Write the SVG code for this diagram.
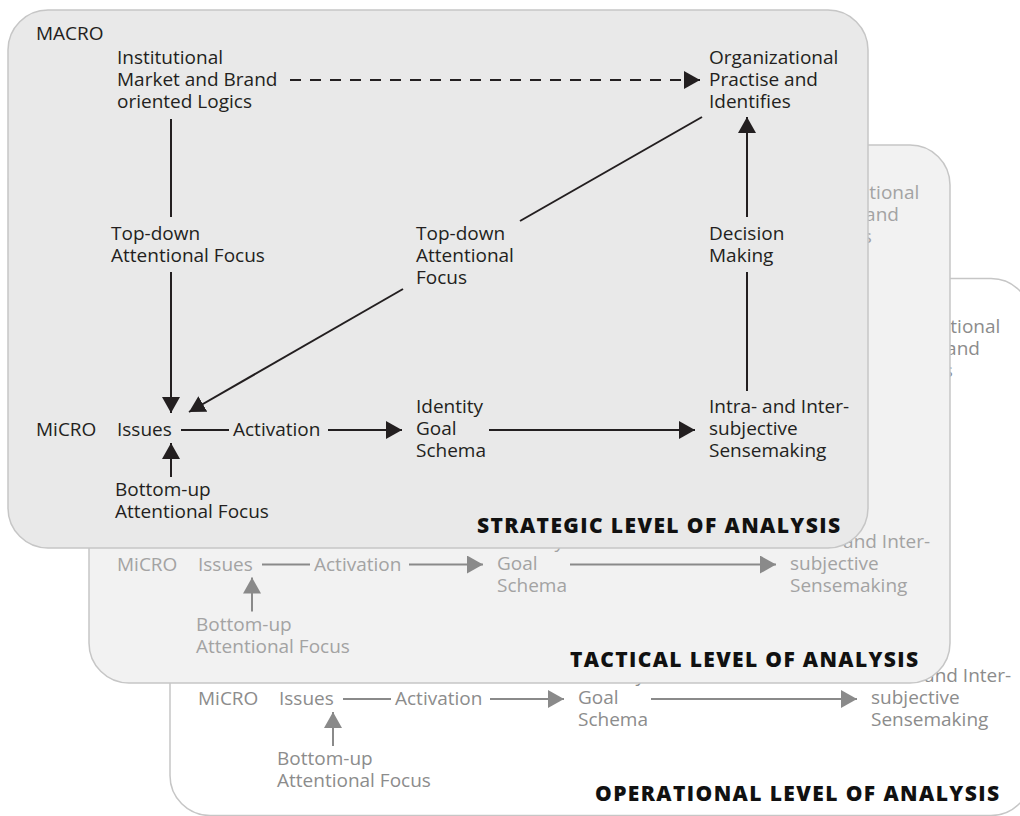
<svg xmlns="http://www.w3.org/2000/svg" width="1020" height="816" viewBox="0 0 1020 816">
<style>
text{font-family:"Open Sans","Noto Sans","Liberation Sans",sans-serif;font-size:19px}
.panel{stroke:#c6c6c6;stroke-width:1.5}
.pS{fill:#e9e9e9}
.pT{fill:#f2f2f2}
.pO{fill:#ffffff}
.tS{fill:#231f20}
.tT{fill:#a3a3a3}
.tO{fill:#8c8c8c}
.title{font-weight:800;font-size:21px;fill:#111111;text-anchor:end}
.c{fill:none;stroke-width:2}
.cS{stroke:#231f20}
.cT{stroke:#8a8a8a}
.cO{stroke:#8a8a8a}
.dash{stroke-dasharray:11 9}
</style>
<defs>
<marker id="aS" markerUnits="userSpaceOnUse" markerWidth="16" markerHeight="18" refX="16" refY="9" orient="auto"><path d="M0,0 L16,9 L0,18 Z" fill="#231f20"/></marker>
<marker id="aT" markerUnits="userSpaceOnUse" markerWidth="16" markerHeight="18" refX="16" refY="9" orient="auto"><path d="M0,0 L16,9 L0,18 Z" fill="#8a8a8a"/></marker>
<marker id="aO" markerUnits="userSpaceOnUse" markerWidth="16" markerHeight="18" refX="16" refY="9" orient="auto"><path d="M0,0 L16,9 L0,18 Z" fill="#8a8a8a"/></marker>
</defs>

<!-- OPERATIONAL (back) : only the parts not hidden by the panels in front -->
<g id="operational">
<rect class="panel pO" x="170" y="278.5" width="861" height="537" rx="40"/>
<g transform="translate(162,269)" class="tO">
<g id="o-org"><text x="709" y="64">Organizational</text><text x="709" y="86">Practise and</text><text x="709" y="108">Identifies</text></g>
<g id="o-micro"><text x="36" y="436">MiCRO</text></g>
<g id="o-issues"><text x="117" y="436">Issues</text></g>
<g id="o-act"><text x="233" y="436">Activation</text></g>
<g id="o-ident"><text x="416" y="413">Identity</text><text x="416" y="435">Goal</text><text x="416" y="457">Schema</text></g>
<g id="o-sense"><text x="709" y="413">Intra- and Inter-</text><text x="709" y="435">subjective</text><text x="709" y="457">Sensemaking</text></g>
<g id="o-bu"><text x="115" y="496">Bottom-up</text><text x="115" y="518">Attentional Focus</text></g>
<g id="o-connectors">
<path class="c cO" d="M181,430 H229"/>
<path class="c cO" d="M328,430 H402" marker-end="url(#aO)"/>
<path class="c cO" d="M489,430 H695" marker-end="url(#aO)"/>
<path class="c cO" d="M171,477 V443" marker-end="url(#aO)"/>
</g>
</g>
<g id="o-title"><text class="title" x="999" y="801" textLength="404" lengthAdjust="spacing">OPERATIONAL LEVEL OF ANALYSIS</text></g>
</g>

<!-- TACTICAL (middle) : only the parts not hidden by the front panel -->
<g id="tactical">
<rect class="panel pT" x="89" y="145" width="861" height="538" rx="40"/>
<g transform="translate(81,134.5)" class="tT">
<g id="t-org"><text x="709" y="64">Organizational</text><text x="709" y="86">Practise and</text><text x="709" y="108">Identifies</text></g>
<g id="t-micro"><text x="36" y="436">MiCRO</text></g>
<g id="t-issues"><text x="117" y="436">Issues</text></g>
<g id="t-act"><text x="233" y="436">Activation</text></g>
<g id="t-ident"><text x="416" y="413">Identity</text><text x="416" y="435">Goal</text><text x="416" y="457">Schema</text></g>
<g id="t-sense"><text x="709" y="413">Intra- and Inter-</text><text x="709" y="435">subjective</text><text x="709" y="457">Sensemaking</text></g>
<g id="t-bu"><text x="115" y="496">Bottom-up</text><text x="115" y="518">Attentional Focus</text></g>
<g id="t-connectors">
<path class="c cT" d="M181,430 H229"/>
<path class="c cT" d="M328,430 H402" marker-end="url(#aT)"/>
<path class="c cT" d="M489,430 H695" marker-end="url(#aT)"/>
<path class="c cT" d="M171,477 V443" marker-end="url(#aT)"/>
</g>
</g>
<g id="t-title"><text class="title" x="918" y="667" textLength="348" lengthAdjust="spacing">TACTICAL LEVEL OF ANALYSIS</text></g>
</g>

<!-- STRATEGIC (front) -->
<g id="strategic">
<rect class="panel pS" x="8" y="10" width="860" height="538" rx="40"/>
<g class="tS">
<g id="s-macro"><text x="36" y="40">MACRO</text></g>
<g id="s-inst"><text x="117" y="64">Institutional</text><text x="117" y="86">Market and Brand</text><text x="117" y="108">oriented Logics</text></g>
<g id="s-org"><text x="709" y="64">Organizational</text><text x="709" y="86">Practise and</text><text x="709" y="108">Identifies</text></g>
<g id="s-td1"><text x="111" y="240">Top-down</text><text x="111" y="262">Attentional Focus</text></g>
<g id="s-td2"><text x="416" y="240">Top-down</text><text x="416" y="262">Attentional</text><text x="416" y="284">Focus</text></g>
<g id="s-dec"><text x="709" y="240">Decision</text><text x="709" y="262">Making</text></g>
<g id="s-micro"><text x="36" y="436">MiCRO</text></g>
<g id="s-issues"><text x="117" y="436">Issues</text></g>
<g id="s-act"><text x="233" y="436">Activation</text></g>
<g id="s-ident"><text x="416" y="413">Identity</text><text x="416" y="435">Goal</text><text x="416" y="457">Schema</text></g>
<g id="s-sense"><text x="709" y="413">Intra- and Inter-</text><text x="709" y="435">subjective</text><text x="709" y="457">Sensemaking</text></g>
<g id="s-bu"><text x="115" y="496">Bottom-up</text><text x="115" y="518">Attentional Focus</text></g>
</g>
<g id="s-connectors">
<path class="c cS dash" d="M290,80 H700" marker-end="url(#aS)"/>
<path class="c cS" d="M171,119 V217"/>
<path class="c cS" d="M171,272 V413" marker-end="url(#aS)"/>
<path class="c cS" d="M403,289 L189,412" marker-end="url(#aS)"/>
<path class="c cS" d="M520,221 L702,117"/>
<path class="c cS" d="M747,217 V117" marker-end="url(#aS)"/>
<path class="c cS" d="M747,272 V391"/>
<path class="c cS" d="M181,430 H229"/>
<path class="c cS" d="M328,430 H402" marker-end="url(#aS)"/>
<path class="c cS" d="M489,430 H695" marker-end="url(#aS)"/>
<path class="c cS" d="M171,477 V443" marker-end="url(#aS)"/>
</g>
<g id="s-title"><text class="title" x="840" y="533" textLength="363" lengthAdjust="spacing">STRATEGIC LEVEL OF ANALYSIS</text></g>
</g>
</svg>
